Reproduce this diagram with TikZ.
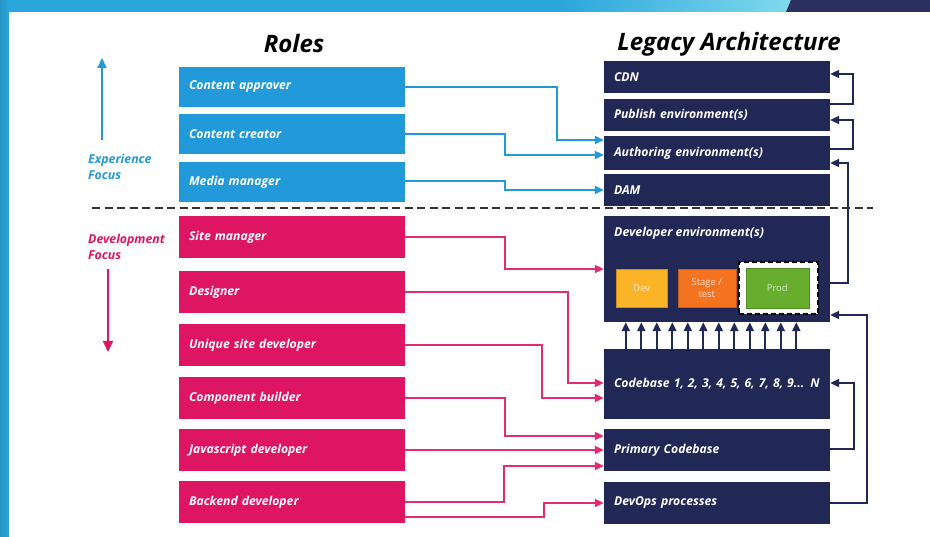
\documentclass[tikz,border=0pt]{standalone}
\usepackage{fontspec}
\setmainfont{Open Sans}
\usetikzlibrary{arrows.meta,calc}
\definecolor{cblue}{HTML}{2299D8}
\definecolor{cpink}{HTML}{DE1562}
\definecolor{cnavy}{HTML}{222855}
\definecolor{cyel}{HTML}{FBB328}
\definecolor{corg}{HTML}{F37321}
\definecolor{cgrn}{HTML}{67AD2E}
\definecolor{topblue}{HTML}{2AA6DC}
\definecolor{topcyan}{HTML}{80D9EC}
\definecolor{topnavy}{HTML}{2B3060}
\definecolor{dashgray}{HTML}{333333}
\tikzset{
  box/.style={rectangle, draw=none, fill=#1, minimum width=226pt, text width=206pt,
    inner xsep=10pt, inner ysep=0pt, align=left, text=white,
    font=\fontsize{12.2}{14}\selectfont\bfseries\itshape},
  envbox/.style={rectangle, draw=#1!80!black, line width=0.6pt, fill=#1, minimum width=51pt,
    minimum height=38pt, inner sep=0pt, align=center, text=white, text opacity=0.75,
    font=\fontsize{9.5}{12}\selectfont},
  bconn/.style={draw=cblue, line width=2pt, -{Triangle[length=9pt,width=8pt]}},
  pconn/.style={draw=cpink!90!white, line width=2pt, -{Triangle[length=9pt,width=8pt]}},
  nconn/.style={draw=cnavy, line width=2pt, -{Triangle[length=9pt,width=8pt]}},
  sidetext/.style={anchor=west, align=left, inner sep=0pt, font=\fontsize{12.3}{16}\selectfont\bfseries\itshape},
  title/.style={font=\fontsize{24}{28}\selectfont\bfseries\itshape, text=black},
}
\begin{document}
\begin{tikzpicture}[x=1pt,y=-1pt]
\useasboundingbox (0,0) rectangle (930,537);
% top decoration
\fill[topblue] (0,0) rectangle (930,12);
\shade[left color=topblue, right color=topcyan] (560,0) rectangle (791,12);
\fill[topnavy] (791,0) -- (930,0) -- (930,12) -- (786,12) -- cycle;
\shade[left color=topblue!90!black, right color=topblue] (0,0) rectangle (9,537);

% titles
\node[title] (troles) at (294,44) {Roles};
\node[title] (tlegacy) at (729,44) {Legacy Architecture};

% role boxes
\node[box=cblue, minimum height=40pt] (ca) at (292,87) {Content approver};
\node[box=cblue, minimum height=40pt] (cc) at (292,134) {Content creator};
\node[box=cblue, minimum height=40pt] (mm) at (292,182) {Media manager};
\node[box=cpink, minimum height=42pt] (sm) at (292,237) {Site manager};
\node[box=cpink, minimum height=42pt] (de) at (292,292) {Designer};
\node[box=cpink, minimum height=42pt] (usd) at (292,345) {Unique site developer};
\node[box=cpink, minimum height=42pt] (cb) at (292,398) {Component builder};
\node[box=cpink, minimum height=42pt] (js) at (292,450) {Javascript developer};
\node[box=cpink, minimum height=42pt] (be) at (292,502) {Backend developer};

% architecture boxes
\node[box=cnavy, minimum height=32pt] (cdn) at (717,77) {CDN};
\node[box=cnavy, minimum height=32pt] (pub) at (717,115) {Publish environment(s)};
\node[box=cnavy, minimum height=34pt] (auth) at (717,153) {Authoring environment(s)};
\node[box=cnavy, minimum height=32pt] (dam) at (717,190) {DAM};
\node[box=cnavy, minimum height=106pt] (devenv) at (717,269) {};
\node[sidetext, text=white] (devenvt) at (614,233) {Developer environment(s)};
\node[box=cnavy, minimum height=70pt] (cbase) at (717,384) {Codebase 1, 2, 3, 4, 5, 6, 7, 8, 9... N};
\node[box=cnavy, minimum height=42pt] (prim) at (717,450) {Primary Codebase};
\node[box=cnavy, minimum height=42pt] (devops) at (717,503) {DevOps processes};

% dev / stage / prod
\node[envbox=cyel] (dev) at (641.8,288.2) {Dev};
\node[envbox=corg, minimum width=58pt] (stage) at (706.8,288.2) {Stage /\\test};
\node[rectangle, fill=white, draw=black, line width=1.8pt, dash pattern=on 5pt off 3pt,
  minimum width=79pt, minimum height=52pt, inner sep=0pt] (prodframe) at (778.6,288.3) {};
\node[envbox=cgrn, minimum width=63pt, minimum height=40pt] (prod) at (777.3,288.3) {Prod};

% focus arrows and labels
\coordinate (eu1) at (102,140);
\coordinate (eu2) at (102,58);
\draw[cblue, line width=2pt, -{Triangle[length=10pt,width=9pt]}] (eu1) -- (eu2);
\node[sidetext, text=cblue] (exptxt) at (88,166.5) {Experience\\Focus};
\coordinate (dd1) at (108,269);
\coordinate (dd2) at (108,352);
\draw[cpink, line width=2pt, -{Triangle[length=11pt,width=10pt]}] (dd1) -- (dd2);
\node[sidetext, text=cpink] (devtxt) at (88,246.5) {Development\\Focus};

% dashed divider
\coordinate (dl) at (92,208);
\coordinate (dr) at (873,208);
\draw[dashgray, line width=2.2pt, dash pattern=on 8pt off 4.5pt] (dl) -- (dr);

% blue connectors
\draw[bconn] (ca.east) -- ++(152,0) |- ([yshift=13pt]auth.west);
\draw[bconn] (cc.east) -- ++(100,0) |- ([yshift=-2pt]auth.west);
\draw[bconn] ([yshift=1pt]mm.east) -- ++(100,0) |- (dam.west);

% pink connectors
\draw[pconn] (sm.east) -- ++(100,0) |- (devenv.west);
\draw[pconn] (de.east) -- ++(163,0) |- ([yshift=1pt]cbase.west);
\draw[pconn] (usd.east) -- ++(137,0) |- ([yshift=-14pt]cbase.west);
\draw[pconn] (cb.east) -- ++(100,0) |- ([yshift=14pt]prim.west);
\draw[pconn] (js.east) -- (prim.west);
\draw[pconn] (be.east) -- ++(99,0) |- ([yshift=-16pt]prim.west);
\draw[pconn] ([yshift=-15pt]be.east) -- ++(139,0) |- (devops.west);

% navy connectors
\draw[nconn] ([yshift=11pt]pub.east) -- ++(23,0) |- ([yshift=3pt]cdn.east);
\draw[nconn] ([yshift=4pt]auth.east) -- ++(23,0) |- ([yshift=-5pt]pub.east);
\draw[nconn] ([yshift=-14pt]devenv.east) -- ++(18,0) |- ([yshift=-10pt]auth.east);
\draw[nconn] ([yshift=1pt]prim.east) -- ++(24,0) |- ([yshift=1pt]cbase.east);
\draw[nconn] (devops.east) -- ++(37,0) |- ([yshift=-46pt]devenv.east);
\foreach \i in {0,...,11} {
  \draw[nconn] ([xshift={22pt+\i*15.5pt}]cbase.north west) -- ([xshift={22pt+\i*15.5pt}]devenv.south west);
}
\end{tikzpicture}
\end{document}
